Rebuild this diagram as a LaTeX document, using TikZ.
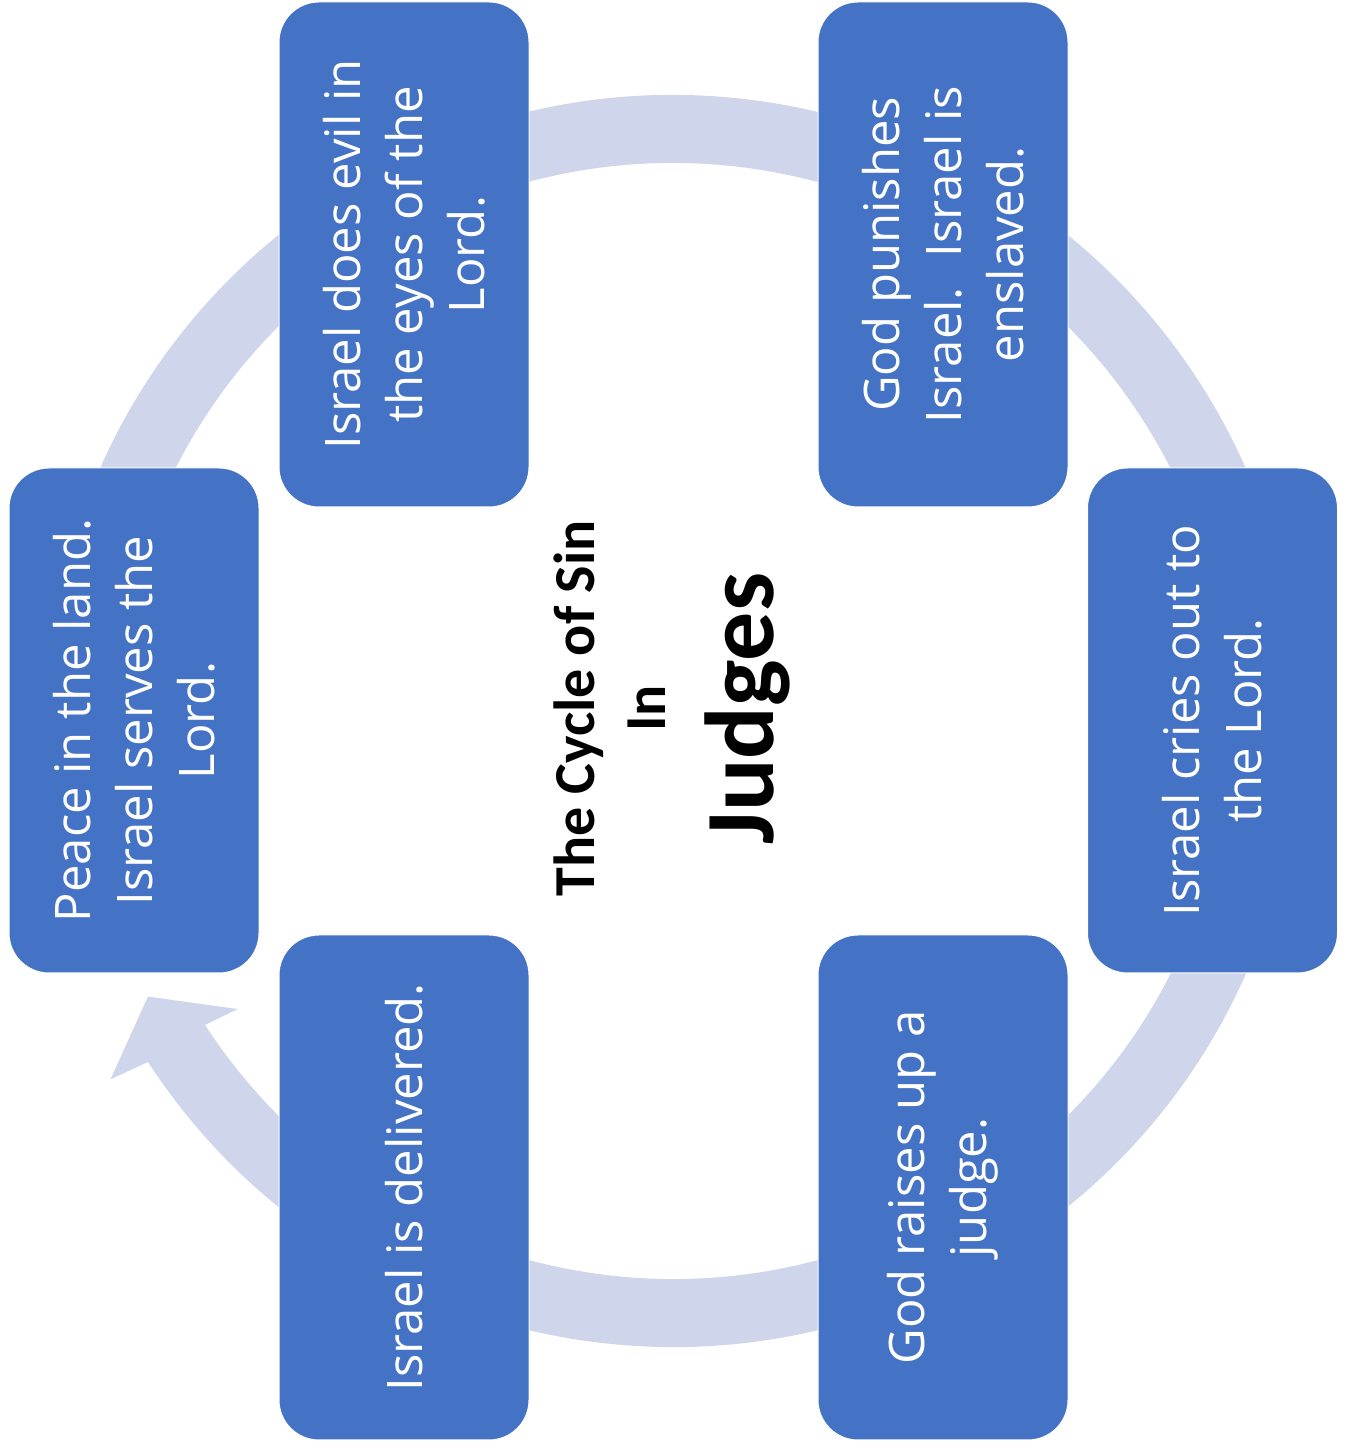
\documentclass[tikz,border=0pt]{standalone}
\usepackage{fontspec}
\setmainfont{Open Sans}
\newfontfamily\titlefont{Carlito}
\definecolor{stageblue}{HTML}{4472C4}
\definecolor{ringblue}{HTML}{CFD5EA}
\tikzset{
  stage/.style={shape=rectangle, rounded corners=40pt, fill=stageblue, draw=white, line width=1pt,
    text=white, rotate=90, minimum width=505pt, minimum height=250pt, align=center,
    font=\fontsize{49}{62}\selectfont},
  title/.style={rotate=90, inner sep=0pt, font=\titlefont\bfseries}
}
\begin{document}
\begin{tikzpicture}[x=1pt, y=1pt]
\useasboundingbox (0,0) rectangle (1345,1448);
\begin{scope}[shift={(673,727)}]
\fill[ringblue] (170:626) arc[start angle=170, end angle=-147, radius=626]
  -- (-147.5:667) -- (-152.3:593) -- (-146.5:522) -- (-147:558)
  arc[start angle=-147, end angle=170, radius=558] -- cycle;
\end{scope}
\node[stage] (evil) at (404,1193.5) {Israel does evil in\\the eyes of the\\Lord.};
\node[stage] (punish) at (943,1193.5) {God punishes\\Israel.~ Israel is\\enslaved.};
\node[stage] (cry) at (1212.5,727.5) {Israel cries out to\\the Lord.};
\node[stage] (judge) at (943,260.5) {God raises up a\\judge.};
\node[stage] (deliver) at (404,260.5) {Israel is delivered.};
\node[stage] (peace) at (134,727.5) {Peace in the land.\\Israel serves the\\Lord.};
\node[title, font=\titlefont\bfseries\fontsize{58}{70}\selectfont] (cycle) at (579,739.5) {The Cycle of Sin};
\node[title, font=\titlefont\bfseries\fontsize{58}{70}\selectfont] (in) at (646.5,739.5) {In};
\node[title, font=\titlefont\bfseries\fontsize{98}{118}\selectfont] (book) at (747.5,739.5) {Judges};
\end{tikzpicture}
\end{document}
